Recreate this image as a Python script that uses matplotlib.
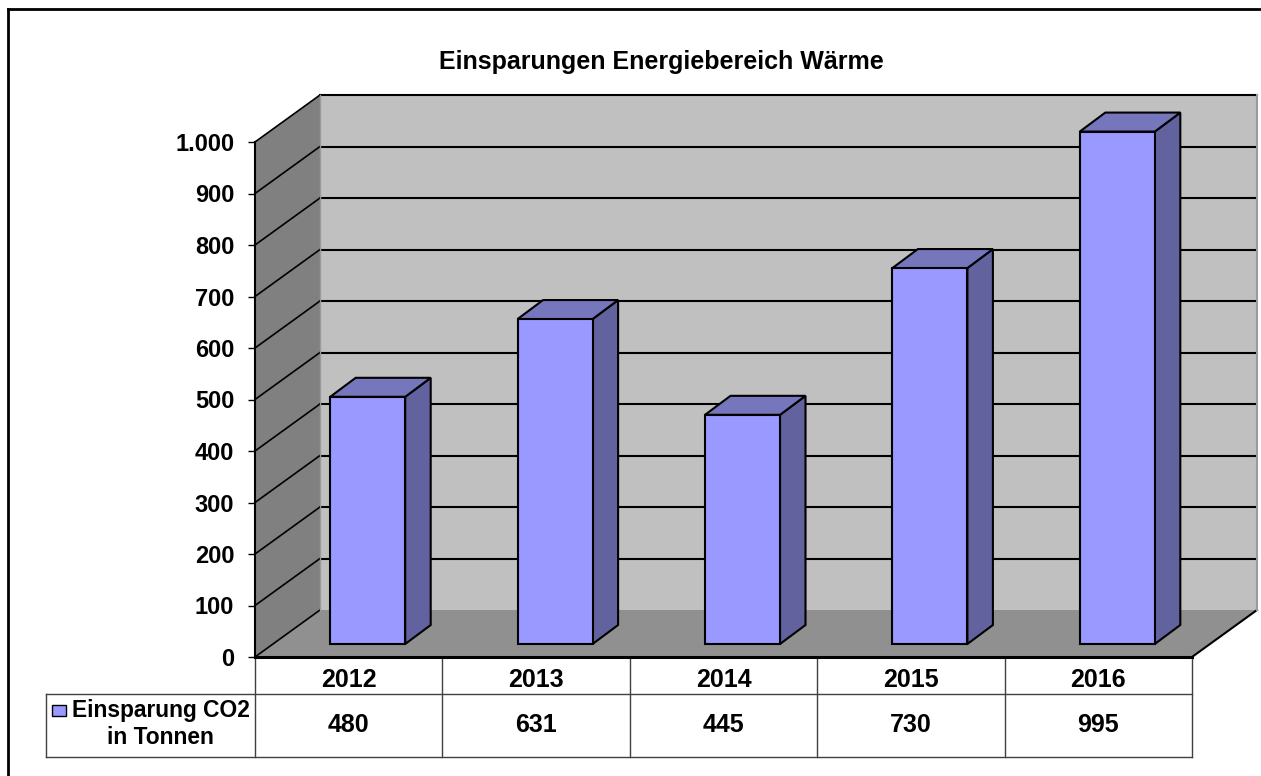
#!/usr/bin/python3

import matplotlib
matplotlib.use("Agg")
import matplotlib.pyplot as plt
from matplotlib.lines import Line2D
from matplotlib.patches import Polygon, Rectangle

#chart values
years = ["2012", "2013", "2014", "2015", "2016"]
savings = [480, 631, 445, 730, 995]
yticks = [0, 100, 200, 300, 400, 500, 600, 700, 800, 900, 1000]
ylabels = ["0", "100", "200", "300", "400", "500", "600", "700", "800", "900", "1.000"]
title = "Einsparungen Energiebereich W\u00e4rme"
legend_lines = ["Einsparung CO2", "in Tonnen"]

#figure size and plot area, pixels from top left
wpx, hpx = 1261, 776
x0px, x1px = 255., 1192.
y0px, y1px = 657., 142.

#pixels per unit
xunit = (x1px-x0px)/len(years)
yunit = (y0px-y1px)/yticks[-1]

#depth of the 3d box in data units
dx = 65./xunit
dy = 47./yunit

col_front = "#9999ff"
col_side = "#62629f"
col_top = "#7676bd"
col_wall = "#c0c0c0"
col_lwall = "#808080"
col_floor = "#909090"
col_table = "#404040"

#_____________________________________________________________________________
def main():

    plt.rcParams["font.family"] = ["Liberation Sans", "DejaVu Sans"]
    plt.rcParams["font.weight"] = "bold"

    fig = plt.figure(figsize=(wpx/100., hpx/100.), dpi=100)
    ax = fig.add_axes([x0px/wpx, 1-y0px/hpx, (x1px-x0px)/wpx, (y0px-y1px)/hpx])
    ax.set_xlim(0, len(years))
    ax.set_ylim(0, yticks[-1])
    ax.patch.set_visible(False)

    for s in ["top", "right"]:
        ax.spines[s].set_visible(False)
    ax.spines["left"].set_linewidth(1.5)
    ax.spines["bottom"].set_linewidth(2.2)
    ax.spines["left"].set_zorder(6)
    ax.spines["bottom"].set_zorder(6)

    ax.set_yticks(yticks)
    ax.set_yticklabels(ylabels, fontsize=17)
    ax.tick_params(axis="y", length=5, width=1, pad=10)

    centers = [i+0.5 for i in range(len(years))]
    ax.set_xticks(centers)
    ax.set_xticklabels(years, fontsize=18)
    ax.tick_params(axis="x", length=0, pad=8)

    draw_box(ax)

    for i in range(len(savings)):
        draw_bar(ax, centers[i], savings[i])

    draw_table(ax, centers)

    fig.text(661./wpx, 1-62./hpx, title, fontsize=18, ha="center", va="center")

    #outer frame, only top and left are inside the picture
    fig.add_artist(Line2D([8./wpx, 8./wpx], [0, 1-9./hpx], color="black", lw=2))
    fig.add_artist(Line2D([8./wpx, 1], [1-9./hpx, 1-9./hpx], color="black", lw=2))

    fig.savefig("out.png", dpi=100)

#main

#_____________________________________________________________________________
def poly(ax, xy, col, lw=0., z=1):

    ax.add_patch(Polygon(xy, closed=True, facecolor=col, edgecolor="black", linewidth=lw,
                         joinstyle="miter", clip_on=False, zorder=z))

#poly

#_____________________________________________________________________________
def draw_box(ax):

    nx = len(years)
    ytop = yticks[-1]

    #back wall, left wall and floor
    poly(ax, [(dx, dy), (nx+dx, dy), (nx+dx, ytop+dy), (dx, ytop+dy)], col_wall)
    poly(ax, [(0, 0), (dx, dy), (dx, ytop+dy), (0, ytop)], col_lwall)
    poly(ax, [(0, 0), (nx, 0), (nx+dx, dy), (dx, dy)], col_floor)

    #grid lines along the left wall and the back wall
    for v in yticks:
        if v > 0:
            ax.plot([dx, nx+dx], [v+dy, v+dy], color="black", lw=1.5, clip_on=False, zorder=2)
        ax.plot([0, dx], [v, v+dy], color="black", lw=1.2, clip_on=False, zorder=2)

    #edges of the floor at right side
    ax.plot([nx, nx+dx], [0, dy], color="black", lw=1.5, clip_on=False, zorder=2)
    ax.plot([nx+dx, nx+dx], [dy, ytop+dy], color="#9a9a9a", lw=1.5, clip_on=False, zorder=2)
    ax.plot([dx, dx], [dy, ytop+dy], color="#9a9a9a", lw=1., clip_on=False, zorder=2)

#draw_box

#_____________________________________________________________________________
def draw_bar(ax, xc, val):

    #bar sits inside the depth of the box
    shift_x = 19./xunit
    shift_y = 13./yunit
    wid = 75./xunit
    bdx = 25.5/xunit
    bdy = 19./yunit

    xa = xc-wid/2+shift_x
    xb = xc+wid/2+shift_x
    y0 = shift_y
    y1 = shift_y+val

    poly(ax, [(xb, y0), (xb+bdx, y0+bdy), (xb+bdx, y1+bdy), (xb, y1)], col_side, 1.5, 3)
    poly(ax, [(xa, y1), (xb, y1), (xb+bdx, y1+bdy), (xa+bdx, y1+bdy)], col_top, 1.5, 3)
    poly(ax, [(xa, y0), (xb, y0), (xb, y1), (xa, y1)], col_front, 1.5, 4)

#draw_bar

#_____________________________________________________________________________
def draw_table(ax, centers):

    nx = len(years)

    #rows below the plot area, from pixels to data
    yrow = (y0px-694.)/yunit
    ybot = (y0px-757.)/yunit
    xleft = (46.-x0px)/xunit

    for i in range(nx+1):
        ax.plot([i, i], [0, ybot], color=col_table, lw=1., clip_on=False, zorder=1)
    ax.plot([xleft, xleft], [yrow, ybot], color=col_table, lw=1., clip_on=False, zorder=1)
    ax.plot([xleft, nx], [yrow, yrow], color=col_table, lw=1., clip_on=False, zorder=1)
    ax.plot([xleft, nx], [ybot, ybot], color=col_table, lw=1., clip_on=False, zorder=1)

    ymid = (y0px-725.)/yunit
    for i in range(nx):
        ax.text(centers[i], ymid, str(savings[i]), fontsize=18, ha="center", va="center")

    #legend entry in the first column
    ax.add_patch(Rectangle(((52.-x0px)/xunit, (y0px-716.)/yunit), 14./xunit, 11./yunit,
                           facecolor=col_front, edgecolor="black", linewidth=1., clip_on=False))
    ax.text((72.-x0px)/xunit, (y0px-710.)/yunit, legend_lines[0], fontsize=16.4, ha="left", va="center")
    ax.text((160.-x0px)/xunit, (y0px-737.)/yunit, legend_lines[1], fontsize=16.4, ha="center", va="center")

#draw_table

#_____________________________________________________________________________
if __name__ == "__main__":

    main()
